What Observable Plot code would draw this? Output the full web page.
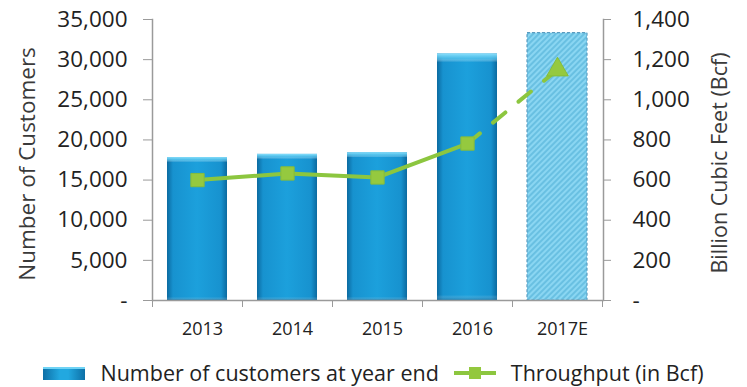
<!DOCTYPE html>
<html>
<head>
<meta charset="utf-8">
<script src="https://cdn.jsdelivr.net/npm/d3@7"></script>
<script src="https://cdn.jsdelivr.net/npm/@observablehq/plot@0.6"></script>
<style>
  html, body { margin: 0; padding: 0; background: #fff; }
  #wrap { position: relative; width: 747px; height: 387px; font-family: "Open Sans", sans-serif; }
  #legend { position: absolute; left: 0; top: 361px; width: 747px; height: 24px; line-height: 24px; display: flex; justify-content: center; align-items: center; font-size: 21.5px; color: #222; }
  .sw { display: inline-block; }
</style>
</head>
<body>
<div id="wrap">
  <div id="chart"></div>
  <div id="legend">
    <span class="sw" style="width:42px;height:13px;background:linear-gradient(to right,#0d6fa6,#22a8e0 40%,#22a8e0 60%,#0d6fa6);border-top:2px solid #6fd3f5;box-sizing:border-box;margin-right:15px;"></span>
    <span>Number of customers at year end</span>
    <svg width="42" height="20" style="margin:0 15px 0 15px;"><line x1="0" y1="10" x2="42" y2="10" stroke="#8cc63f" stroke-width="4"/><rect x="15" y="4" width="12" height="12" fill="#93c83e"/></svg>
    <span>Throughput (in Bcf)</span>
  </div>
</div>
<script>
const years = ["2013", "2014", "2015", "2016", "2017E"];
const customers = [17800, 18200, 18400, 30700, 33300];
const throughput = [600, 633, 613, 782, 1150];
const leftTicks = [0, 5000, 10000, 15000, 20000, 25000, 30000, 35000];
const rightTicks = [0, 200, 400, 600, 800, 1000, 1200, 1400];
const ratio = 35000 / 1400;

const bars = years.map((y, i) => ({year: y, value: customers[i]}));
const pts = years.map((y, i) => ({year: y, value: throughput[i] * ratio}));
const actualBars = bars.slice(0, 4);
const estBars = bars.slice(4);
const solidPts = pts.slice(0, 4);
const dashPts = pts.slice(3);

const fmt = d3.format(",");
const axisColor = "#9a9a9a";

const svg = Plot.plot({
  width: 747,
  height: 350,
  marginLeft: 152,
  marginRight: 144,
  marginTop: 19,
  marginBottom: 50,
  style: {fontFamily: "Open Sans", fontSize: "22px", color: "#222", background: "#fff"},
  x: {domain: years, paddingInner: 0.333, paddingOuter: 0.1667, axis: null},
  y: {domain: [0, 35000], axis: null},
  marks: [
    Plot.frame({anchor: "left", stroke: axisColor, strokeWidth: 1.5}),
    Plot.frame({anchor: "right", stroke: axisColor, strokeWidth: 1.5}),
    Plot.axisY({ticks: leftTicks, anchor: "left", tickSize: 9, tickPadding: 16, stroke: axisColor, fontSize: 22.5,
      tickFormat: d => d === 0 ? "-" : fmt(d), label: null}),
    Plot.axisY({ticks: leftTicks, anchor: "right", tickSize: 7, tickPadding: 22, stroke: axisColor, fontSize: 22.5, textAnchor: "start",
      tickFormat: d => d === 0 ? "-" : fmt(d / ratio), label: null}),
    Plot.barY(actualBars, {x: "year", y: "value", fill: "url(#barGrad)"}),
    Plot.barY(actualBars, {x: "year", y: "value", fill: "url(#barTop)"}),
    Plot.barY(estBars, {x: "year", y: "value", fill: "url(#hatch)", stroke: "#5a9cc0", strokeWidth: 1.2, strokeDasharray: "3,2"}),
    Plot.ruleY([0], {stroke: axisColor, strokeWidth: 1.5}),
    Plot.axisX({ticks: years, tickSize: 7, tickFormat: () => "", dx: -45, stroke: axisColor, label: null}),
    Plot.axisX({ticks: ["2017E"], tickSize: 7, tickFormat: () => "", dx: 45, stroke: axisColor, label: null}),
    Plot.axisX({ticks: years, tickSize: 0, tickPadding: 22, dx: 5, fontSize: 18, label: null}),
    Plot.line(solidPts, {x: "year", y: "value", stroke: "#8cc63f", strokeWidth: 4}),
    Plot.line(dashPts, {x: "year", y: "value", stroke: "#8cc63f", strokeWidth: 4, strokeDasharray: "16,17"}),
    Plot.dot(solidPts, {x: "year", y: "value", symbol: "square", r: 7.5, fill: "#95c93f", stroke: "#86bd3a", strokeWidth: 1}),
    Plot.dot(pts.slice(4), {x: "year", y: "value", symbol: "triangle", r: 8, fill: "#95c93f", stroke: "#86bd3a", strokeWidth: 1}),
    Plot.text(["Number of Customers"], {frameAnchor: "left", textAnchor: "middle", rotate: -90, dx: -125, dy: 4, fontSize: 22.5, fill: "#3a3a3a"}),
    Plot.text(["Billion Cubic Feet (Bcf)"], {frameAnchor: "right", textAnchor: "middle", rotate: -90, dx: 117, dy: 3, fontSize: 21.5, fill: "#3a3a3a"})
  ]
});

const ns = "http://www.w3.org/2000/svg";
const defs = document.createElementNS(ns, "defs");
defs.innerHTML = `
  <linearGradient id="barGrad" x1="0" y1="0" x2="1" y2="0">
    <stop offset="0" stop-color="#0b6aa0"/>
    <stop offset="0.1" stop-color="#1792cf"/>
    <stop offset="0.5" stop-color="#1ca0dc"/>
    <stop offset="0.9" stop-color="#1792cf"/>
    <stop offset="1" stop-color="#0b6aa0"/>
  </linearGradient>
  <linearGradient id="barTop" x1="0" y1="0" x2="0" y2="1">
    <stop offset="0" stop-color="#8ae0fc" stop-opacity="1"/>
    <stop offset="0.02" stop-color="#5fcaf0" stop-opacity="0.7"/>
    <stop offset="0.035" stop-color="#ffffff" stop-opacity="0"/>
    <stop offset="0.98" stop-color="#ffffff" stop-opacity="0"/>
    <stop offset="1" stop-color="#0a5e90" stop-opacity="0.5"/>
  </linearGradient>
  <pattern id="hatch" width="4" height="4" patternUnits="userSpaceOnUse" patternTransform="rotate(-45)">
    <rect width="4" height="4" fill="#8ad6f2"/>
    <line x1="0" y1="1" x2="4" y2="1" stroke="#4eaed6" stroke-width="1.1"/>
  </pattern>`;
svg.prepend(defs);
document.getElementById("chart").appendChild(svg);
</script>
</body>
</html>
